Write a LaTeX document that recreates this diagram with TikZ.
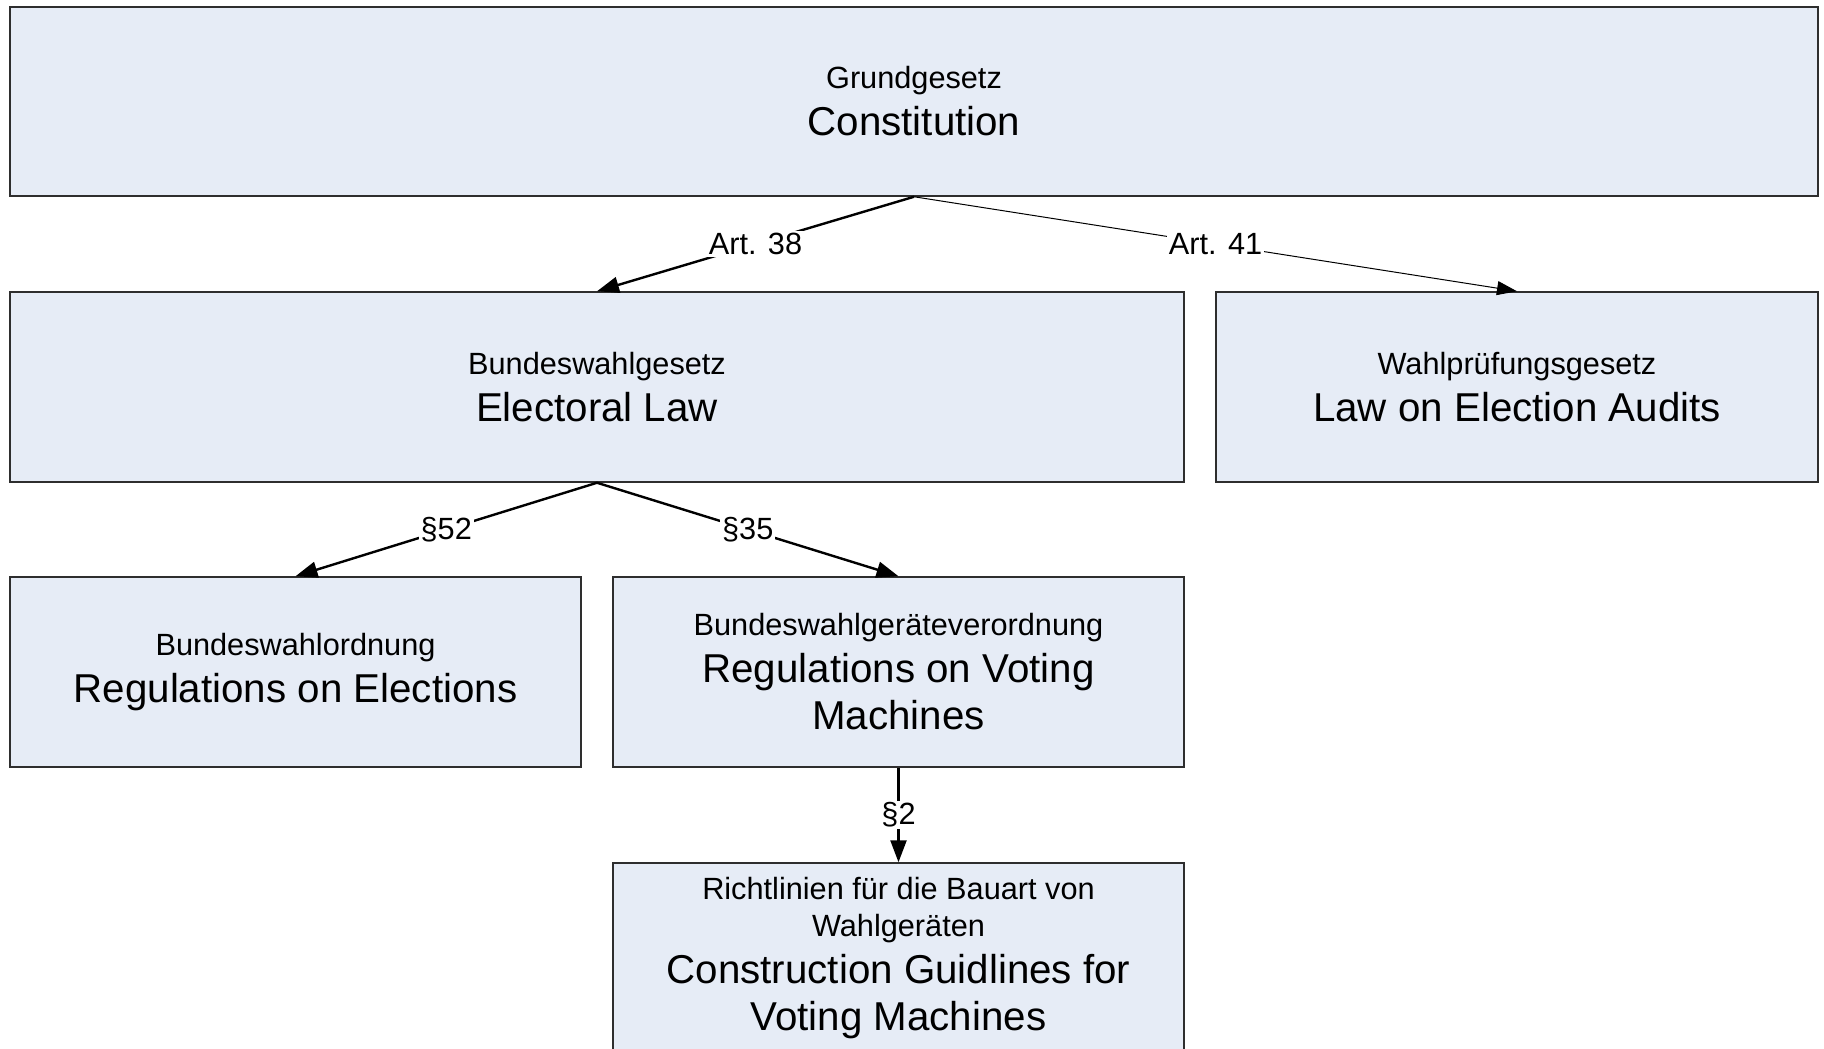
\documentclass[tikz,border=0pt]{standalone}
\usepackage{fontspec}
\setmainfont{Liberation Sans}
\usetikzlibrary{arrows.meta}
\definecolor{boxfill}{HTML}{E6ECF6}
\definecolor{boxline}{HTML}{2E2E2E}
\newcommand\smallline{\fontsize{30.7}{37}\selectfont}
\newcommand\bigline{\fontsize{40.3}{47}\selectfont}
\tikzset{
  lawbox/.style={draw=boxline, fill=boxfill, line width=1.5pt,
    minimum width=#1, minimum height=190pt, align=center,
    inner sep=0pt, font=\bigline},
  strongedge/.style={draw=black, line width=2.4pt,
    -{Triangle[length=22pt,width=16pt]}},
  weakedge/.style={draw=black, line width=1pt,
    -{Triangle[length=20pt,width=14pt]}},
  edgelabel/.style={fill=white, inner sep=2pt, font=\smallline}
}
\begin{document}
\begin{tikzpicture}[x=1pt,y=-1pt]
\clip (0,0) rectangle (1824,1049);
\fill[white] (0,0) rectangle (1824,1049);

\node[lawbox=1808pt, minimum height=189pt] (gg) at (914,101.5)
  {{\smallline Grundgesetz}\\Constitution};
\node[lawbox=1174pt] (bwg) at (597,387)
  {{\smallline Bundeswahlgesetz}\\Electoral Law};
\node[lawbox=602pt] (wpg) at (1517,387)
  {{\smallline Wahlprüfungsgesetz}\\Law on Election Audits};
\node[lawbox=571pt] (bwo) at (295.5,672)
  {{\smallline Bundeswahlordnung}\\Regulations on Elections};
\node[lawbox=571pt] (bwgv) at (898.5,672)
  {{\smallline Bundeswahlgeräteverordnung}\\Regulations on Voting\\Machines};
\node[lawbox=571pt] (rl) at (898.5,958)
  {{\smallline Richtlinien für die Bauart von}\\[-10pt]{\smallline Wahlgeräten}\\Construction Guidlines for\\Voting Machines};

\draw[strongedge] (gg.south) -- node[edgelabel] {Art. 38} (bwg.north);
\draw[weakedge] (gg.south) -- node[edgelabel] {Art. 41} (wpg.north);
\draw[strongedge] (bwg.south) -- node[edgelabel] {§52} (bwo.north);
\draw[strongedge] (bwg.south) -- node[edgelabel] {§35} (bwgv.north);
\draw[strongedge] (bwgv.south) -- node[edgelabel] {§2} (rl.north);
\end{tikzpicture}
\end{document}
